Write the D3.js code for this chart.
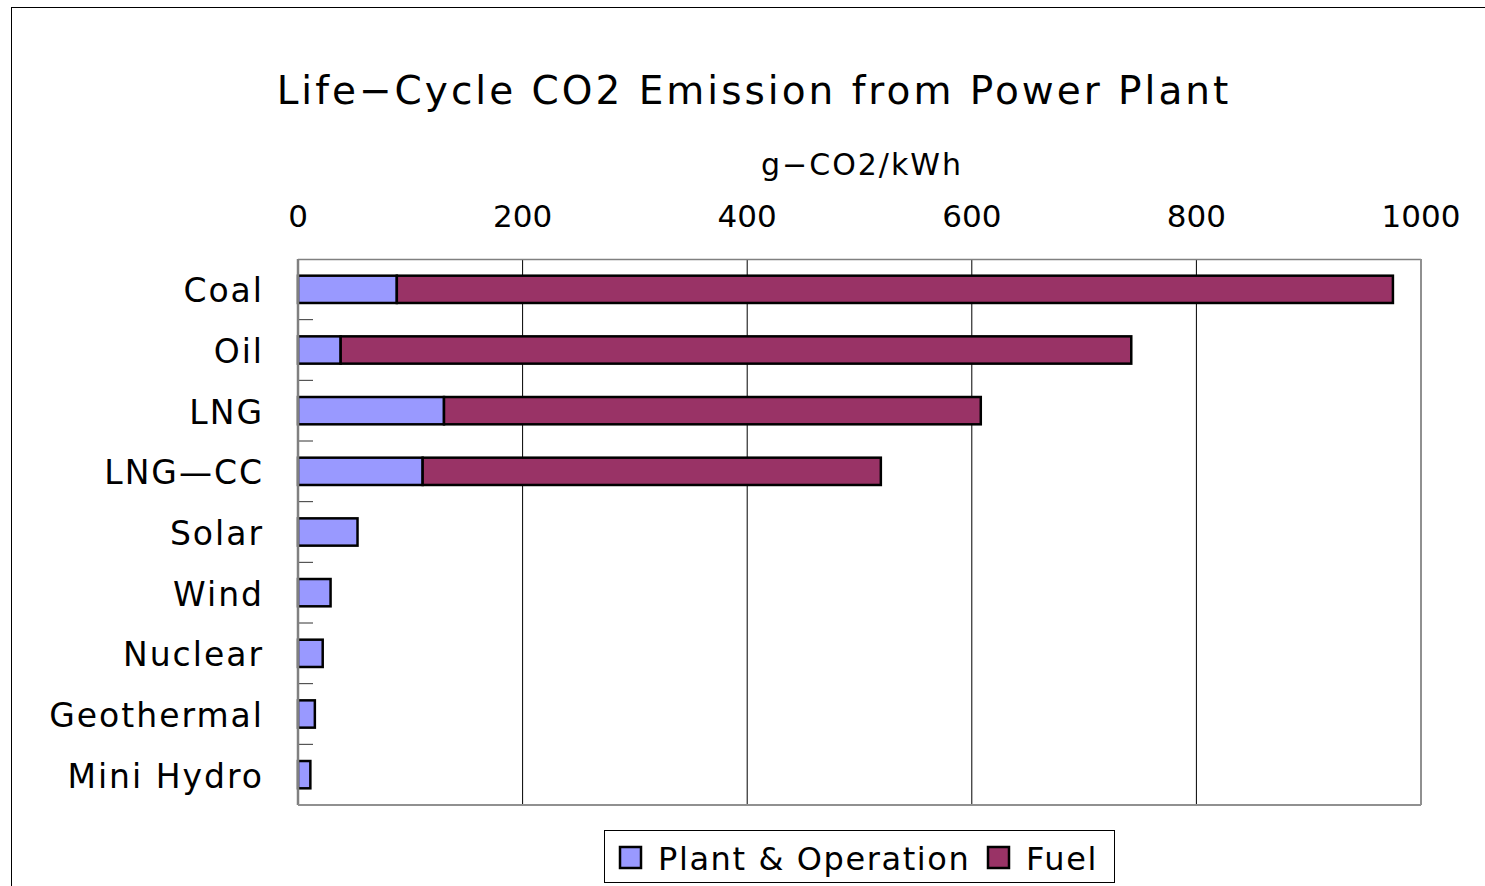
<!DOCTYPE html>
<html>
<head>
<meta charset="utf-8">
<script src="https://cdn.jsdelivr.net/npm/d3@7"></script>
<style>
  body { margin: 0; background: #fff; }
  text { font-family: "DejaVu Sans", "Liberation Sans", sans-serif; fill: #000; }
</style>
</head>
<body>
<div class="chart"></div>
<script>
// chart data
var categories = ["Coal", "Oil", "LNG", "LNG\u2014CC", "Solar", "Wind", "Nuclear", "Geothermal", "Mini Hydro"];
var plantValues = [88, 38, 130, 111, 53, 29, 22, 15, 11];
var fuelValues = [887, 704, 478, 408, 0, 0, 0, 0, 0];
var seriesNames = ["Plant & Operation", "Fuel"];
var xTicks = [0, 200, 400, 600, 800, 1000];

var svgWidth = 1485, svgHeight = 886;
var margin = { top: 259, right: 64, bottom: 81, left: 298 };
var width = svgWidth - margin.left - margin.right;
var height = svgHeight - margin.top - margin.bottom;
var colors = ["#9999ff", "#993366"];

var svg = d3.select(".chart").append("svg")
  .attr("width", svgWidth)
  .attr("height", svgHeight);

// outer chart border (runs off the page right and bottom)
svg.append("rect")
  .attr("x", 11.5).attr("y", 7.5)
  .attr("width", 1500).attr("height", 900)
  .attr("fill", "none").attr("stroke", "#000").attr("stroke-width", 1);

var chartGroup = svg.append("g")
  .attr("transform", `translate(${margin.left}, ${margin.top})`);

var x = d3.scaleLinear().domain([0, 1000]).range([0, width]);
var y = d3.scaleBand().domain(categories).range([0, height]).paddingInner(0.55).paddingOuter(0.275);
var yBand = d3.scaleBand().domain(categories).range([0, height]);

// gridlines
chartGroup.append("g")
  .selectAll("line")
  .data(xTicks.slice(1, -1))
  .enter().append("line")
  .attr("x1", d => x(d)).attr("x2", d => x(d))
  .attr("y1", 0).attr("y2", height)
  .attr("stroke", "#000").attr("stroke-width", 1);

// plot border
chartGroup.append("line").attr("x1", 0).attr("x2", width).attr("y1", 0.5).attr("y2", 0.5)
  .attr("stroke", "#808080").attr("stroke-width", 1.5);
chartGroup.append("line").attr("x1", width).attr("x2", width).attr("y1", 0).attr("y2", height)
  .attr("stroke", "#909090").attr("stroke-width", 2);

// category tick marks (inside)
chartGroup.append("g")
  .selectAll("line")
  .data(categories.slice(1))
  .enter().append("line")
  .attr("x1", 0).attr("x2", 15)
  .attr("y1", d => yBand(d)).attr("y2", d => yBand(d))
  .attr("stroke", "#333").attr("stroke-width", 1);

// stacked bars
var stackData = categories.map((c, i) => ({ cat: c, plant: plantValues[i], fuel: fuelValues[i] }));
var stack = d3.stack().keys(["plant", "fuel"])(stackData);

chartGroup.selectAll(".series")
  .data(stack)
  .enter().append("g")
  .attr("fill", (d, i) => colors[i])
  .selectAll("rect")
  .data(d => d.filter(p => p[1] - p[0] > 0))
  .enter().append("rect")
  .attr("x", d => x(d[0]))
  .attr("y", d => y(d.data.cat))
  .attr("width", d => x(d[1]) - x(d[0]))
  .attr("height", y.bandwidth())
  .attr("stroke", "#000")
  .attr("stroke-width", 2.5);

// left and bottom axis lines
chartGroup.append("line").attr("x1", 0).attr("x2", 0).attr("y1", 0).attr("y2", height)
  .attr("stroke", "#808080").attr("stroke-width", 2.5);
chartGroup.append("line").attr("x1", 0).attr("x2", width).attr("y1", height).attr("y2", height)
  .attr("stroke", "#909090").attr("stroke-width", 2);

// x tick labels (top)
chartGroup.append("g")
  .selectAll("text")
  .data(xTicks)
  .enter().append("text")
  .attr("x", d => x(d))
  .attr("y", -32)
  .attr("text-anchor", "middle")
  .style("font-size", "31px")
  .text(d => d);

// category labels
var catSpacing = 2;
chartGroup.append("g")
  .selectAll("text")
  .data(categories)
  .enter().append("text")
  .attr("x", -36 + catSpacing)
  .attr("y", d => y(d) + y.bandwidth() / 2 + 13)
  .attr("text-anchor", "end")
  .style("font-size", "33px")
  .style("letter-spacing", catSpacing + "px")
  .text(d => d);

// titles
svg.append("text")
  .attr("x", 754).attr("y", 104)
  .attr("text-anchor", "middle")
  .style("font-size", "39px")
  .style("letter-spacing", "3px")
  .text("Life\u2212Cycle CO2 Emission from Power Plant");

svg.append("text")
  .attr("x", 862).attr("y", 175)
  .attr("text-anchor", "middle")
  .style("font-size", "30px")
  .style("letter-spacing", "2px")
  .text("g\u2212CO2/kWh");

// legend
var legend = svg.append("g").attr("transform", "translate(604, 830)");
legend.append("rect")
  .attr("x", 0.5).attr("y", 0.5).attr("width", 510).attr("height", 52)
  .attr("fill", "#fff").attr("stroke", "#000").attr("stroke-width", 1);
var legendX = [16, 384];
seriesNames.forEach(function(name, i) {
  legend.append("rect")
    .attr("x", legendX[i]).attr("y", 17)
    .attr("width", 21).attr("height", 21)
    .attr("fill", colors[i]).attr("stroke", "#000").attr("stroke-width", 2.5);
  legend.append("text")
    .attr("x", legendX[i] + 38).attr("y", 40)
    .style("font-size", "32px")
    .style("letter-spacing", "1.6px")
    .text(name);
});
</script>
</body>
</html>
